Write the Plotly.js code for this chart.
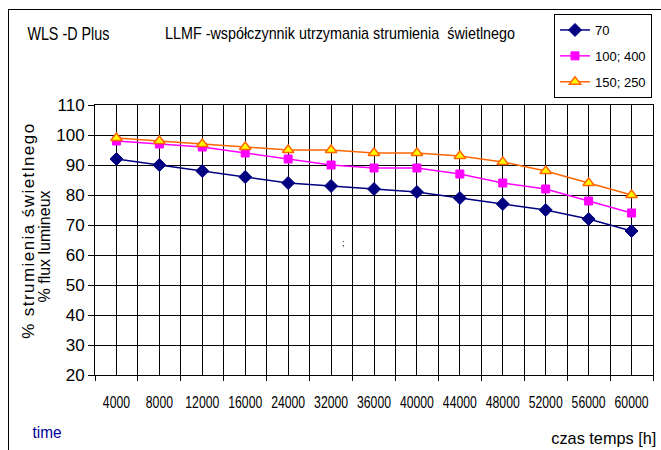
<!DOCTYPE html>
<html>
<head>
<meta charset="utf-8">
<script src="https://cdn.plot.ly/plotly-3.0.1.min.js"></script>
<style>
  html, body { margin: 0; padding: 0; background: #fff; }
  #wrap { position: relative; width: 661px; height: 450px; overflow: hidden; }
  #frame { position: absolute; left: 8px; top: 9px; width: 700px; height: 500px; border: 1px solid #000; pointer-events: none; }
  #chart { position: absolute; left: 0; top: 0; width: 661px; height: 450px; }
</style>
</head>
<body>
<div id="wrap">
  <div id="chart"></div>
  <div id="frame"></div>
</div>
<script>
const categories = ['4000','8000','12000','16000','24000','32000','36000','40000','44000','48000','52000','56000','60000'];
const series70 = [92, 90, 88, 86, 84, 83, 82, 81, 79, 77, 75, 72, 68];
const series100_400 = [98, 97, 96, 94, 92, 90, 89, 89, 87, 84, 82, 78, 74];
const series150_250 = [99, 98, 97, 96, 95, 95, 94, 94, 93, 91, 88, 84, 80];
const seriesNames = ['70', '100; 400', '150; 250'];
const yTicks = [20, 30, 40, 50, 60, 70, 80, 90, 100, 110];

const REG = '"Liberation Sans", Arial, sans-serif';

const idx = categories.map((c, i) => i);

// plot area in pixels: x 95..653, y 105..375
const L = 95, R = 653, T = 105, B = 375;
const px = v => (v - L) / (R - L);
const py = v => (B - v) / (B - T);

const traces = [
  { x: idx, y: series70, name: seriesNames[0], legendgroup: 'a', type: 'scatter', mode: 'lines+markers',
    line: { color: '#000080', width: 1.5 },
    marker: { symbol: 'diamond', size: 10, color: '#000080', line: { color: '#000080', width: 1 } } },
  { x: idx, y: series100_400, name: seriesNames[1], legendgroup: 'b', type: 'scatter', mode: 'lines+markers',
    line: { color: '#FF00FF', width: 1.5 },
    marker: { symbol: 'square', size: 8, color: '#FF00FF', line: { color: '#FF00FF', width: 1 } } },
  { x: idx, y: series150_250, name: seriesNames[2], legendgroup: 'c', type: 'scatter', mode: 'lines+markers',
    line: { color: '#FF6600', width: 1.5 },
    marker: { symbol: 'triangle-up', size: 10, color: '#FFFF00', line: { color: '#FF6600', width: 1.5 } } }
];

const layout = {
  width: 661, height: 450,
  margin: { l: L, r: 661 - R, t: T, b: 450 - B, autoexpand: false },
  paper_bgcolor: 'rgba(0,0,0,0)', plot_bgcolor: '#fff',
  showlegend: true,
  legend: {
    x: px(652), y: py(14), xanchor: 'right', yanchor: 'top',
    bordercolor: '#000', borderwidth: 1, bgcolor: '#fff',
    font: { family: REG, size: 13, color: '#000' },
    traceorder: 'grouped', tracegroupgap: 6, itemwidth: 30
  },
  title: {
    text: 'LLMF -współczynnik utrzymania strumienia  świetlnego',
    font: { family: REG, size: 17, color: '#000' },
    x: 165 / 661, xanchor: 'left', xref: 'container',
    y: 1 - 33 / 450, yanchor: 'middle', yref: 'container'
  },
  xaxis: {
    range: [-0.5, 12.5], fixedrange: true,
    tickmode: 'array', tickvals: idx, ticktext: categories, tickangle: 0,
    ticks: '', showgrid: true, gridcolor: '#000', gridwidth: 1,
    showline: true, linecolor: '#000', linewidth: 1, mirror: true,
    zeroline: false,
    tickfont: { family: REG, size: 17, color: '#000' },
    ticklabelstandoff: 12,
    minor: { tick0: -0.5, dtick: 1, showgrid: true, gridcolor: '#000', gridwidth: 1, ticks: 'outside', ticklen: 5, tickcolor: '#000' }
  },
  yaxis: {
    range: [20, 110], tickmode: 'array', tickvals: yTicks,
    ticks: 'outside', ticklen: 6, tickcolor: '#000',
    showgrid: true, gridcolor: '#000', gridwidth: 1,
    showline: true, linecolor: '#000', linewidth: 1, mirror: true,
    zeroline: false,
    tickfont: { family: REG, size: 17, color: '#000' }
  },
  annotations: [
    { text: 'WLS -D Plus', xref: 'paper', yref: 'paper', x: px(68), y: py(33),
      xanchor: 'center', yanchor: 'middle', showarrow: false, font: { family: REG, size: 19, color: '#000' } },
    { text: 'time', xref: 'paper', yref: 'paper', x: px(47), y: py(432),
      xanchor: 'center', yanchor: 'middle', showarrow: false, font: { family: REG, size: 17, color: '#000099' } },
    { text: 'czas temps [h]', xref: 'paper', yref: 'paper', x: px(604), y: py(438),
      xanchor: 'center', yanchor: 'middle', showarrow: false, font: { family: REG, size: 17, color: '#000' } },
    { text: ';', xref: 'paper', yref: 'paper', x: px(343), y: py(243),
      xanchor: 'center', yanchor: 'middle', showarrow: false, font: { family: REG, size: 9, color: '#000' } },
    { text: '% strumienia świetlnego', xref: 'paper', yref: 'paper', x: px(28), y: py(232),
      xanchor: 'center', yanchor: 'middle', textangle: -90, showarrow: false, font: { family: REG, size: 17, color: '#000' } },
    { text: '% flux lumineux', xref: 'paper', yref: 'paper', x: px(45), y: py(246),
      xanchor: 'center', yanchor: 'middle', textangle: -90, showarrow: false, font: { family: REG, size: 17, color: '#000' } }
  ]
};

// condensed look of the original (Arial Narrow style) via SVG textLength
function fit(el, target, mode) {
  if (!el) return;
  el.setAttribute('textLength', target);
  el.setAttribute('lengthAdjust', mode || 'spacingAndGlyphs');
}
const annTargets = [[82, 'spacingAndGlyphs'], [29, 'spacingAndGlyphs'], [105, 'spacingAndGlyphs'], null, [215, 'spacing'], [112, 'spacingAndGlyphs']];

Plotly.newPlot('chart', traces, layout, { displayModeBar: false, staticPlot: true }).then(gd => {
  gd.querySelectorAll('.xtick text').forEach(t => {
    fit(t, (t.getComputedTextLength() * 0.72).toFixed(1));
  });
  fit(gd.querySelector('.gtitle'), 350);
  annTargets.forEach((a, i) => {
    if (!a) return;
    fit(gd.querySelector('g.annotation[data-index="' + i + '"] text.annotation-text'), a[0], a[1]);
  });
});
</script>
</body>
</html>
